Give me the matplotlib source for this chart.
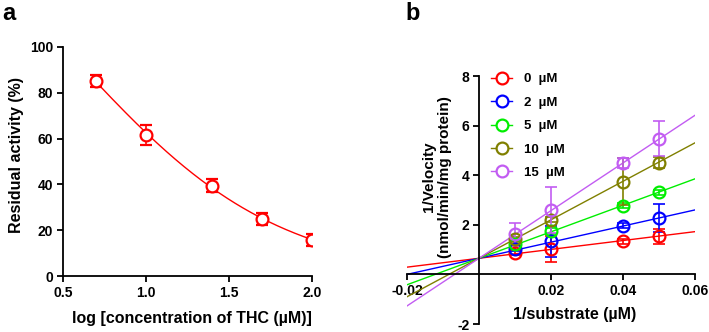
import numpy as np
import matplotlib
matplotlib.use('Agg')
import matplotlib.pyplot as plt

plt.rcParams['font.family'] = ['Liberation Sans', 'DejaVu Sans']
plt.rcParams['font.weight'] = 'bold'

# panel a: inhibition curve
log_conc = [0.7, 1.0, 1.4, 1.7, 2.0]
activity = [85.1, 61.5, 39.4, 24.8, 15.8]
activity_err = [2.7, 4.3, 2.9, 2.5, 2.5]

# panel b: Lineweaver-Burk
inv_sub = [0.01, 0.02, 0.04, 0.05]
conc_labels = ['0  µM', '2  µM', '5  µM', '10  µM', '15  µM']
colors = ['#FF0000', '#0000FF', '#00EE00', '#808000', '#C25CF2']
inv_vel = [
    [0.87, 1.01, 1.33, 1.53],
    [1.04, 1.33, 1.97, 2.28],
    [1.24, 1.75, 2.77, 3.31],
    [1.41, 2.20, 3.73, 4.51],
    [1.61, 2.60, 4.48, 5.47],
]
inv_vel_err = [
    [0.10, 0.52, 0.10, 0.32],
    [0.10, 0.62, 0.10, 0.56],
    [0.10, 0.12, 0.10, 0.10],
    [0.10, 0.10, 0.95, 0.21],
    [0.47, 0.92, 0.20, 0.70],
]
# fitted lines (shared y intercept)
fit_intercept = 0.65
fit_slopes = [17.9, 32.5, 53.4, 77.6, 96.1]

W, H = 709, 332
fig = plt.figure(figsize=(W / 100, H / 100), dpi=100)

def px_axes(l, t, r, b):
    return fig.add_axes([l / W, 1 - b / H, (r - l) / W, (b - t) / H])

def style(ax):
    for s in ax.spines.values():
        s.set_linewidth(1.3)
    ax.tick_params(direction='out', length=4, width=1.3, labelsize=10, pad=3)
    for lab in ax.get_xticklabels() + ax.get_yticklabels():
        lab.set_fontweight('bold')

# ---- panel a
ax1 = px_axes(63, 47, 312, 276)
ax1.spines['top'].set_visible(False)
ax1.spines['right'].set_visible(False)
ax1.set_xlim(0.5, 2.0)
ax1.set_ylim(0, 100)
ax1.set_xticks([0.5, 1.0, 1.5, 2.0])
ax1.set_xticklabels(['0.5', '1.0', '1.5', '2.0'])
ax1.set_yticks([0, 20, 40, 60, 80, 100])

# 4-parameter logistic fit: grid over logIC50/hill, linear solve for bottom/top
x = np.array(log_conc)
y = np.array(activity)
best = None
for c in np.linspace(0.6, 1.8, 241):
    for h in np.linspace(0.3, 3.0, 271):
        f = 1.0 / (1.0 + 10 ** ((x - c) * h))
        A = np.column_stack([np.ones_like(f), f])
        coef, *_ = np.linalg.lstsq(A, y, rcond=None)
        err = np.sum((A @ coef - y) ** 2)
        if best is None or err < best[0]:
            best = (err, c, h, coef)
_, c, h, coef = best
xs = np.linspace(0.7, 2.0, 200)
ax1.plot(xs, coef[0] + coef[1] / (1.0 + 10 ** ((xs - c) * h)), color='#FF0000', lw=1.0)
ax1.errorbar(log_conc, activity, yerr=activity_err, fmt='o', mfc='white', mec='#FF0000',
             ms=8.5, mew=1.6, ecolor='#FF0000', elinewidth=1.2, capsize=4, capthick=1.2, zorder=3)
style(ax1)

# ---- panel b
ax2 = px_axes(407, 76, 695, 324)
ax2.set_xlim(-0.02, 0.06)
ax2.set_ylim(-2, 8)
ax2.spines['top'].set_visible(False)
ax2.spines['right'].set_visible(False)
ax2.spines['left'].set_position(('data', 0))
ax2.spines['bottom'].set_position(('data', 0))
ax2.set_xticks([-0.02, 0.02, 0.04, 0.06])
ax2.set_xticklabels(['-0.02', '0.02', '0.04', '0.06'])
ax2.set_yticks([-2, 2, 4, 6, 8])
ax2.set_yticklabels(['-2', '2', '4', '6', '8'])

xl = np.array([-0.02, 0.06])
handles = []
for vals, errs, col, slope, lab in zip(inv_vel, inv_vel_err, colors, fit_slopes, conc_labels):
    ax2.plot(xl, fit_intercept + slope * xl, color=col, lw=1.0, zorder=2)
    ax2.errorbar(inv_sub, vals, yerr=errs, fmt='none', ecolor=col, elinewidth=1.2,
                 capsize=4, capthick=1.2, zorder=3)
    ax2.plot(inv_sub, vals, 'o', mfc='none', mec=col, ms=8.5, mew=1.6, zorder=4)
    hl, = ax2.plot([], [], '-o', color=col, mfc='white', mec=col, ms=8.5, mew=1.6, lw=1.0, label=lab)
    handles.append(hl)
style(ax2)
leg = ax2.legend(handles=handles, loc='upper left', bbox_to_anchor=(491 / W, 1 - 73 / H),
                 bbox_transform=fig.transFigure, frameon=False, handlelength=1.6,
                 handletextpad=0.9, labelspacing=0.85, borderaxespad=0, borderpad=0,
                 prop={'weight': 'bold', 'size': 9.5})

# labels
fig.text(16.5 / W, 1 - 155 / H, 'Residual activity (%)', rotation=90, ha='center', va='center',
         fontsize=11.5, fontweight='bold')
fig.text(192 / W, 1 - 318 / H, 'log [concentration of THC (µM)]', ha='center', va='center',
         fontsize=11.5, fontweight='bold')
fig.text(437 / W, 1 - 177 / H, '1/Velocity\n(nmol/min/mg protein)', rotation=90, ha='center',
         va='center', multialignment='center', fontsize=11, fontweight='bold', linespacing=1.25)
fig.text(575 / W, 1 - 314 / H, '1/substrate (µM)', ha='center', va='center',
         fontsize=11.5, fontweight='bold')
fig.text(9 / W, 1 - 13 / H, 'a', ha='center', va='center', fontsize=17, fontweight='bold')
fig.text(413 / W, 1 - 13 / H, 'b', ha='center', va='center', fontsize=17, fontweight='bold')

fig.savefig('out.png', dpi=100)
